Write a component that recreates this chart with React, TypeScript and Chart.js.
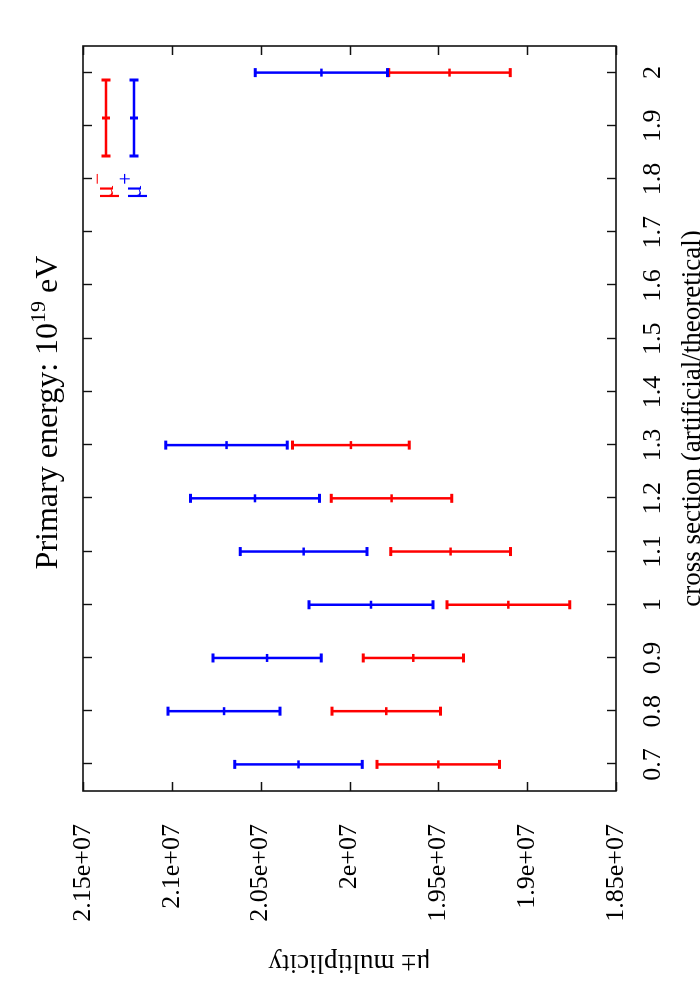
import React, { useEffect, useRef } from "react";
import { Chart, registerables } from "chart.js";

Chart.register(...registerables);

// ---- data ----
const CROSS_SECTION = [0.7, 0.8, 0.9, 1.0, 1.1, 1.2, 1.3, 2.0];
const MU_MINUS = [1.95e7, 1.9793e7, 1.9641e7, 1.9106e7, 1.9431e7, 1.9763e7, 1.9992e7, 1.9437e7];
const MU_MINUS_ERR = [344800, 305700, 282300, 345000, 337400, 339100, 329000, 342200];
const MU_PLUS = [2.0287e7, 2.0706e7, 2.0464e7, 1.9879e7, 2.0258e7, 2.0532e7, 2.0692e7, 2.0158e7];
const MU_PLUS_ERR = [359100, 314900, 304800, 348700, 357100, 362700, 342000, 372300];

const X_TICKS = [0.7, 0.8, 0.9, 1.0, 1.1, 1.2, 1.3, 1.4, 1.5, 1.6, 1.7, 1.8, 1.9, 2.0];
const X_TICK_LABELS = ["0.7", "0.8", "0.9", "1", "1.1", "1.2", "1.3", "1.4", "1.5", "1.6", "1.7", "1.8", "1.9", "2"];
const Y_TICKS = [1.85e7, 1.9e7, 1.95e7, 2.0e7, 2.05e7, 2.1e7, 2.15e7];
const Y_TICK_LABELS = ["1.85e+07", "1.9e+07", "1.95e+07", "2e+07", "2.05e+07", "2.1e+07", "2.15e+07"];

const SERIES_NAMES = ["μ−", "μ+"];
const LEGEND_BASE = ["μ", "μ"];
const LEGEND_SUP = ["−", "+"];
const SERIES_COLORS = ["#ff0000", "#0000ff"];

const TITLE_MAIN = "Primary energy: 10";
const TITLE_SUP = "19";
const TITLE_TAIL = " eV";
const X_TITLE = "cross section (artificial/theoretical)";
const Y_TITLE = "μ± multiplicity";

const FAMILY = '"Liberation Serif", "Times New Roman", serif';
const TICK_SIZE = 26;
const AXIS_TITLE_SIZE = 27;

function drawErrorBar(ctx: CanvasRenderingContext2D, x: number, yLo: number, yHi: number, color: string) {
  ctx.save();
  ctx.strokeStyle = color;
  ctx.lineCap = "butt";
  ctx.lineWidth = 2.5;
  ctx.beginPath();
  ctx.moveTo(x, yLo);
  ctx.lineTo(x, yHi);
  ctx.stroke();
  ctx.lineWidth = 3;
  ctx.beginPath();
  ctx.moveTo(x - 4.5, yLo);
  ctx.lineTo(x + 4.5, yLo);
  ctx.moveTo(x - 4.5, yHi);
  ctx.lineTo(x + 4.5, yHi);
  ctx.stroke();
  ctx.restore();
}

const errorBarPlugin = {
  id: "errorBars",
  beforeDatasetsDraw(chart: any) {
    const { ctx, scales } = chart;
    const xs = scales.x;
    const ys = scales.y;
    chart.data.datasets.forEach((ds: any) => {
      ds.data.forEach((p: any) => {
        const px = xs.getPixelForValue(p.x);
        drawErrorBar(ctx, px, ys.getPixelForValue(p.y - p.err), ys.getPixelForValue(p.y + p.err), ds.borderColor);
      });
    });
  },
};

const framePlugin = {
  id: "frame",
  afterDraw(chart: any) {
    const { ctx, chartArea: a, scales } = chart;
    ctx.save();
    ctx.strokeStyle = "#111";
    ctx.lineWidth = 1.4;
    const T = 9;
    ctx.beginPath();
    X_TICKS.forEach((v) => {
      const px = Math.round(scales.x.getPixelForValue(v)) + 0.5;
      ctx.moveTo(px, a.bottom);
      ctx.lineTo(px, a.bottom - T);
      ctx.moveTo(px, a.top);
      ctx.lineTo(px, a.top + T);
    });
    Y_TICKS.forEach((v) => {
      const py = Math.round(scales.y.getPixelForValue(v)) + 0.5;
      ctx.moveTo(a.left, py);
      ctx.lineTo(a.left + T, py);
      ctx.moveTo(a.right, py);
      ctx.lineTo(a.right - T, py);
    });
    ctx.stroke();
    ctx.lineWidth = 1.6;
    ctx.strokeRect(a.left, a.top, a.right - a.left, a.bottom - a.top);
    ctx.restore();
  },
};

const legendPlugin = {
  id: "customLegend",
  afterDraw(chart: any) {
    const { ctx, chartArea: a } = chart;
    ctx.save();
    for (let i = 0; i < SERIES_NAMES.length; i++) {
      const rowY = a.top + 23 + i * 28;
      const color = SERIES_COLORS[i];
      const x0 = a.right - 110;
      const x1 = a.right - 34;
      ctx.strokeStyle = color;
      ctx.lineWidth = 2.5;
      ctx.beginPath();
      ctx.moveTo(x0, rowY);
      ctx.lineTo(x1, rowY);
      ctx.stroke();
      ctx.lineWidth = 3;
      ctx.beginPath();
      ctx.moveTo(x0, rowY - 4.5);
      ctx.lineTo(x0, rowY + 4.5);
      ctx.moveTo(x1, rowY - 4.5);
      ctx.lineTo(x1, rowY + 4.5);
      ctx.moveTo((x0 + x1) / 2, rowY - 4);
      ctx.lineTo((x0 + x1) / 2, rowY + 4);
      ctx.stroke();
      const end = a.right - 127;
      ctx.fillStyle = color;
      ctx.textBaseline = "middle";
      ctx.textAlign = "right";
      ctx.font = `21px ${FAMILY}`;
      ctx.fillText(LEGEND_SUP[i], end, rowY - 8);
      const supW = ctx.measureText(LEGEND_SUP[i]).width;
      ctx.font = `27px ${FAMILY}`;
      ctx.fillText(LEGEND_BASE[i], end - supW, rowY);
    }
    ctx.restore();
  },
};

const titlePlugin = {
  id: "customTitle",
  afterDraw(chart: any) {
    const { ctx, chartArea: a } = chart;
    ctx.save();
    ctx.fillStyle = "#000";
    ctx.textBaseline = "alphabetic";
    ctx.textAlign = "left";
    const mainFont = `32px ${FAMILY}`;
    const supFont = `22px ${FAMILY}`;
    ctx.font = mainFont;
    const w1 = ctx.measureText(TITLE_MAIN).width;
    const w3 = ctx.measureText(TITLE_TAIL).width;
    ctx.font = supFont;
    const w2 = ctx.measureText(TITLE_SUP).width;
    const total = w1 + w2 + w3;
    const cx = (a.left + a.right) / 2 + 6;
    let x = cx - total / 2;
    const base = 57;
    ctx.font = mainFont;
    ctx.fillText(TITLE_MAIN, x, base);
    x += w1;
    ctx.font = supFont;
    ctx.fillText(TITLE_SUP, x, base - 12);
    x += w2;
    ctx.font = mainFont;
    ctx.fillText(TITLE_TAIL, x, base);
    ctx.restore();
  },
};

export default function App() {
  const ref = useRef<HTMLCanvasElement | null>(null);

  useEffect(() => {
    if (!ref.current) return;
    const mk = (vals: number[], errs: number[]) =>
      CROSS_SECTION.map((x, i) => ({ x, y: vals[i], err: errs[i] }));

    const chart = new Chart(ref.current, {
      type: "scatter",
      data: {
        datasets: [
          {
            label: SERIES_NAMES[0],
            data: mk(MU_MINUS, MU_MINUS_ERR) as any,
            borderColor: SERIES_COLORS[0],
            backgroundColor: SERIES_COLORS[0],
            pointStyle: "line",
            pointRadius: 4,
            pointBorderWidth: 2.5,
            showLine: false,
          },
          {
            label: SERIES_NAMES[1],
            data: mk(MU_PLUS, MU_PLUS_ERR) as any,
            borderColor: SERIES_COLORS[1],
            backgroundColor: SERIES_COLORS[1],
            pointStyle: "line",
            pointRadius: 4,
            pointBorderWidth: 2.5,
            showLine: false,
          },
        ],
      },
      options: {
        responsive: false,
        animation: false,
        devicePixelRatio: 1,
        layout: { padding: { top: 83, right: 46, left: 0, bottom: 0 } },
        plugins: {
          legend: { display: false },
          title: { display: false },
          tooltip: { enabled: false },
        },
        scales: {
          x: {
            type: "linear",
            min: 0.65,
            max: 2.05,
            afterBuildTicks: (s: any) => {
              s.ticks = X_TICKS.map((v) => ({ value: v }));
            },
            afterFit: (s: any) => {
              s.height = 84;
            },
            grid: { display: false },
            border: { display: false },
            ticks: {
              autoSkip: false,
              maxRotation: 0,
              minRotation: 0,
              padding: 14,
              color: "#000",
              font: { family: FAMILY, size: TICK_SIZE },
              callback: (_v: any, i: number) => X_TICK_LABELS[i],
            },
            title: {
              display: true,
              text: X_TITLE,
              color: "#000",
              font: { family: FAMILY, size: AXIS_TITLE_SIZE, lineHeight: 0.5 },
              padding: 0,
            },
          },
          y: {
            type: "linear",
            min: 1.85e7,
            max: 2.15e7,
            afterBuildTicks: (s: any) => {
              s.ticks = Y_TICKS.map((v) => ({ value: v }));
            },
            afterFit: (s: any) => {
              s.width = 209;
            },
            grid: { display: false },
            border: { display: false },
            ticks: {
              autoSkip: false,
              padding: 25,
              color: "#000",
              font: { family: FAMILY, size: TICK_SIZE },
              callback: (_v: any, i: number) => Y_TICK_LABELS[i],
            },
            title: {
              display: true,
              text: Y_TITLE,
              color: "#000",
              font: { family: FAMILY, size: AXIS_TITLE_SIZE },
              padding: { top: 22, bottom: 0 },
            },
          },
        },
      },
      plugins: [errorBarPlugin, framePlugin, legendPlugin, titlePlugin],
    });
    return () => chart.destroy();
  }, []);

  return (
    <div
      style={{
        position: "fixed",
        left: 0,
        top: 0,
        width: 1000,
        height: 700,
        transformOrigin: "0 0",
        transform: "translate(0px, 1000px) rotate(-90deg)",
        background: "#fff",
      }}
    >
      <canvas ref={ref} width={1000} height={700} style={{ display: "block", width: 1000, height: 700 }} />
    </div>
  );
}
